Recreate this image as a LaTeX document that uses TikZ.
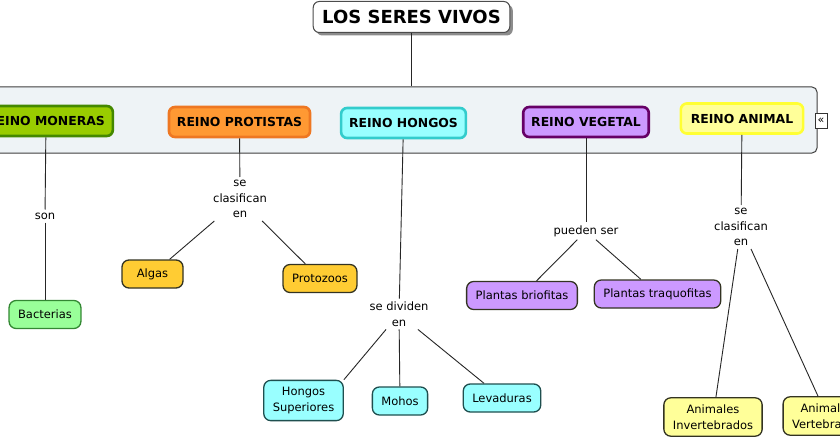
\documentclass[tikz,border=0pt]{standalone}
\usepackage{fontspec}
\setmainfont{DejaVu Sans}
\usetikzlibrary{positioning,shadows}
\definecolor{panelbg}{RGB}{238,243,246}
\definecolor{monfill}{RGB}{153,204,0}
\definecolor{monline}{RGB}{68,136,0}
\definecolor{profill}{RGB}{255,153,51}
\definecolor{proline}{RGB}{238,119,34}
\definecolor{honfill}{RGB}{153,255,255}
\definecolor{honline}{RGB}{51,204,204}
\definecolor{vegfill}{RGB}{204,153,255}
\definecolor{vegline}{RGB}{102,0,102}
\definecolor{anifill}{RGB}{255,255,153}
\definecolor{aniline}{RGB}{255,255,51}
\definecolor{bacfill}{RGB}{153,255,153}
\definecolor{bacline}{RGB}{51,136,51}
\definecolor{oro}{RGB}{255,204,51}
\definecolor{borde}{RGB}{51,51,34}
\definecolor{bordeh}{RGB}{31,79,79}

\begin{document}
\begin{tikzpicture}[x=1pt, y=-1pt,
  titulo/.style={draw=black!70, fill=white, rounded corners=6pt, line width=1pt,
                 font=\fontsize{18}{20}\selectfont\bfseries, inner xsep=9pt, minimum height=31pt,
                 drop shadow={shadow xshift=3pt, shadow yshift=-3pt, fill=black!45, opacity=1}},
  reino/.style={rounded corners=6pt, line width=2.6pt, font=\fontsize{12.4}{15}\selectfont\bfseries,
                inner xsep=8pt, minimum height=30pt},
  hoja/.style={draw=borde, rounded corners=7pt, line width=1.3pt, align=center,
               font=\fontsize{11.5}{15.5}\selectfont, inner xsep=9pt, inner ysep=7pt, minimum height=28pt},
  enlace/.style={align=center, font=\fontsize{11.5}{15.5}\selectfont, inner sep=3pt},
  ln/.style={draw=black!85, line width=0.9pt}]
  \clip (0,0) rectangle (840,441);
  \fill[white] (0,0) rectangle (840,441);

  \node[titulo] (titulo) at (411.5,17) {LOS SERES VIVOS};
  \node[draw=black!75, fill=panelbg, rounded corners=5pt, line width=1pt,
        minimum width=847pt, minimum height=66pt] (panel) at (393.5,120) {};
  \node[draw=black!80, fill=white, line width=0.7pt, inner sep=0pt, minimum width=12pt,
        minimum height=15pt, font=\fontsize{11}{12}\selectfont] (plegar) at (821,120.5) {«};
  \draw[ln] (titulo) -- (titulo |- panel.north);

  % reinos
  \node[reino, draw=monline, fill=monfill] (mon) at (46,121) {REINO MONERAS};
  \node[reino, draw=proline, fill=profill] (pro) at (239.5,122) {REINO PROTISTAS};
  \node[reino, draw=honline, fill=honfill] (hon) at (403.5,123) {REINO HONGOS};
  \node[reino, draw=vegline, fill=vegfill] (veg) at (586,122) {REINO VEGETAL};
  \node[reino, draw=aniline, fill=anifill, inner xsep=10pt] (ani) at (742,118.5) {REINO ANIMAL};

  % frases de enlace
  \node[enlace] (monlbl) at (45,216) {son};
  \node[enlace] (prolbl) at (240,199) {se\\clasifican\\en};
  \node[enlace] (honlbl) at (399,314) {se dividen\\en};
  \node[enlace] (veglbl) at (586,231) {pueden ser};
  \node[enlace] (anilbl) at (741,227) {se\\clasifican\\en};

  % conceptos
  \node[hoja, draw=bacline, fill=bacfill] (bac) at (45,314.5) {Bacterias};
  \node[hoja, fill=oro, minimum width=61pt] (algas) at (152.5,274) {Algas};
  \node[hoja, fill=oro] (protoz) at (320,278.5) {Protozoos};
  \node[hoja, draw=bordeh, fill=honfill] (hsup) at (303.5,400.5) {Hongos\\Superiores};
  \node[hoja, draw=bordeh, fill=honfill] (mohos) at (400,401) {Mohos};
  \node[hoja, draw=bordeh, fill=honfill] (lev) at (502,398) {Levaduras};
  \node[hoja, fill=vegfill] (brio) at (522,295.5) {Plantas briofitas};
  \node[hoja, fill=vegfill] (traq) at (657.5,294) {Plantas traquofitas};
  \node[hoja, fill=anifill] (inv) at (713,417) {Animales\\Invertebrados};
  \node[hoja, fill=anifill] (vert) at (827,416) {Animales\\Vertebrados};

  \draw[ln] (mon) -- (monlbl); \draw[ln] (monlbl) -- (bac);
  \draw[ln] (pro) -- (prolbl); \draw[ln] (prolbl) -- (algas); \draw[ln] (prolbl) -- (protoz);
  \draw[ln] (hon) -- (honlbl); \draw[ln] (honlbl) -- (hsup.north east);
  \draw[ln] (honlbl) -- (mohos); \draw[ln] (honlbl) -- (lev);
  \draw[ln] (veg) -- (veglbl); \draw[ln] (veglbl) -- (brio); \draw[ln] (veglbl) -- (traq);
  \draw[ln] (ani) -- (anilbl); \draw[ln] (anilbl) -- (inv); \draw[ln] (anilbl) -- (vert);
\end{tikzpicture}
\end{document}
